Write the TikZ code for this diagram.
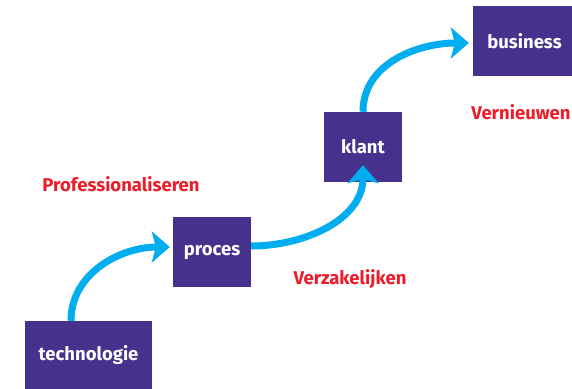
\documentclass[tikz,border=0pt]{standalone}
\usepackage{fontspec}
\setmainfont{Fira Sans}
\usetikzlibrary{arrows.meta}
\definecolor{paars}{HTML}{46328C}
\definecolor{cyaan}{HTML}{00AEEF}
\definecolor{rood}{HTML}{EC1C2A}
\begin{document}
\begin{tikzpicture}[x=1pt,y=1pt,
  blok/.style={fill=paars,text=white,font=\bfseries\fontsize{18.5}{22}\selectfont,
    minimum width=78pt,minimum height=70pt,inner sep=0pt},
  fase/.style={text=rood,font=\bfseries\fontsize{18.5}{22}\selectfont},
  pijl/.style={cyaan,line width=7pt,
    -{Stealth[length=18pt,width=31pt,inset=4pt]}},
  ]
\useasboundingbox (0,0) rectangle (572,388);
\node[blok,minimum width=127pt,minimum height=68pt] (technologie) at (88.5,33) {technologie};
\node[blok] (proces) at (212,136) {proces};
\node[blok] (klant) at (363,241) {klant};
\node[blok,minimum width=103pt] (business) at (524.5,347) {business};

\node[fase] (prof) at (121,204) {Professionaliseren};
\node[fase] (zakelijk) at (350,109) {Verzakelijken};
\node[fase] (nieuw) at (521,276) {Vernieuwen};

\draw[pijl] ([xshift=-17.5pt]technologie.north) to[out=90,in=180] ([shift={(-3pt,5pt)}]proces.west);
\draw[pijl] ([yshift=6pt]proces.east) to[out=0,in=-90] ([yshift=17pt]klant.south);
\draw[pijl] (klant.north) to[out=90,in=180] ([shift={(-4pt,-2pt)}]business.west);

\end{tikzpicture}
\end{document}
